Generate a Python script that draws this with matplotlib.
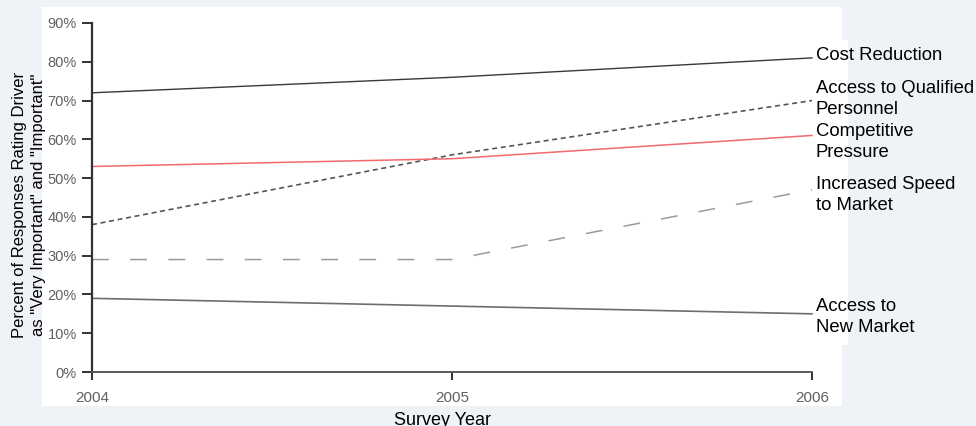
import matplotlib
matplotlib.use("Agg")
import matplotlib.pyplot as plt
from matplotlib.patches import Rectangle

plt.rcParams['font.family'] = ['Liberation Sans', 'DejaVu Sans']

years = [2004, 2005, 2006]
series_names = ["Cost Reduction", "Access to Qualified\nPersonnel", "Competitive\nPressure",
                "Increased Speed\nto Market", "Access to\nNew Market"]
cost_reduction = [72, 76, 81]
qualified_personnel = [38, 56, 70]
competitive_pressure = [53, 55, 61]
speed_to_market = [29, 29, 47]
new_market = [19, 17, 15]
y_ticks = [0, 10, 20, 30, 40, 50, 60, 70, 80, 90]
y_tick_labels = [f"{v}%" for v in y_ticks]

values = [cost_reduction, qualified_personnel, competitive_pressure, speed_to_market, new_market]
styles = [
    dict(color="#3a3a3a", lw=1.0, ls="-"),
    dict(color="#555555", lw=1.2, ls=(0, (3.0, 2.2))),
    dict(color="#f26a6a", lw=1.1, ls="-"),
    dict(color="#9a9a9a", lw=1.1, ls=(0, (11, 14))),
    dict(color="#6e6e6e", lw=1.2, ls="-"),
]
label_offsets = [0.6, 0.3, -1.8, -1.3, -0.8]

W, H = 976, 426
fig = plt.figure(figsize=(W / 100, H / 100), dpi=100, facecolor="#eff3f8")

# white panels behind the plot and the line labels
fig.patches.append(Rectangle((42 / W, 1 - 406 / H), 800 / W, 399 / H, transform=fig.transFigure,
                             facecolor="white", edgecolor="none", zorder=0))
fig.patches.append(Rectangle((842 / W, 1 - 345 / H), 6 / W, 305 / H, transform=fig.transFigure,
                             facecolor="white", edgecolor="none", zorder=0))

ax = fig.add_axes([92 / W, 1 - 372 / H, 720 / W, 349 / H])
ax.set_zorder(2)
ax.set_facecolor("none")

for vals, st, name, off in zip(values, styles, series_names, label_offsets):
    ax.plot(years, vals, color=st["color"], lw=st["lw"], linestyle=st["ls"], clip_on=False)
    ax.text(years[-1] + 0.01, vals[-1] + off, name, fontsize=13.3, color="black",
            va="center", ha="left", linespacing=1.3, clip_on=False)

ax.set_xlim(2004, 2006)
ax.set_ylim(0, 90)
ax.set_xticks(years)
ax.set_xticklabels([str(y) for y in years])
ax.set_yticks(y_ticks)
ax.set_yticklabels(y_tick_labels)

for s in ["top", "right"]:
    ax.spines[s].set_visible(False)
ax.spines["left"].set_color("#333333")
ax.spines["left"].set_linewidth(1.6)
ax.spines["bottom"].set_color("#5a5a5a")
ax.spines["bottom"].set_linewidth(1.4)

ax.tick_params(axis="y", length=7, width=1.4, color="#333333", labelcolor="#606060",
               labelsize=10.5, pad=4)
ax.tick_params(axis="x", length=6, width=1.4, color="#333333", labelcolor="#606060",
               labelsize=11, pad=8)

ax.set_xlabel("Survey Year", fontsize=13, color="black")
ax.xaxis.set_label_coords(0.487, -0.115)
ax.set_ylabel('Percent of Responses Rating Driver\nas "Very Important" and "Important"',
              fontsize=12, color="black", linespacing=1.3)
ax.yaxis.set_label_coords(-0.064, 0.48)

fig.savefig("out.png", dpi=100, facecolor=fig.get_facecolor())
